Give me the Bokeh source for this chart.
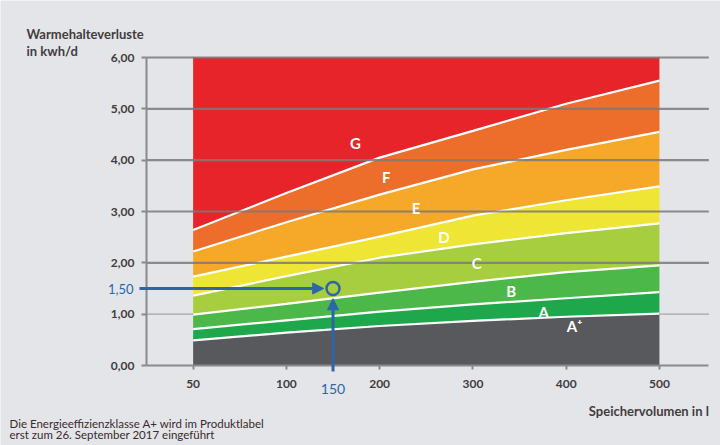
import numpy as np
from bokeh.plotting import figure
from bokeh.models import FixedTicker, Label, Arrow, NormalHead, Range1d
from bokeh.embed import file_html
from bokeh.resources import INLINE
from bokeh.core.properties import value

# ---------------- data ----------------
tick_volumes = [50, 100, 200, 300, 400, 500]
tick_labels = ["50", "100", "200", "300", "400", "500"]

volumes = [50, 100, 200, 300, 400, 500]
b_aplus_a = [0.49, 0.64, 0.77, 0.87, 0.95, 1.01]
b_a_b = [0.71, 0.88, 1.05, 1.19, 1.31, 1.43]
b_b_c = [0.99, 1.20, 1.42, 1.63, 1.82, 1.95]
b_c_d = [1.36, 1.74, 2.10, 2.36, 2.58, 2.77]
b_d_e = [1.73, 2.12, 2.51, 2.92, 3.22, 3.49]
b_e_f = [2.22, 2.79, 3.33, 3.82, 4.20, 4.55]
b_f_g = [2.64, 3.36, 4.05, 4.57, 5.10, 5.55]
y_min = 0.0
y_max = 6.0

classes = ["A\u207a", "A", "B", "C", "D", "E", "F", "G"]
class_colors = ["#58595c", "#1ea84b", "#4db84a", "#a7ce3e", "#efe535",
                "#f6a828", "#ed6d2b", "#e8242b"]
label_volumes = [409, 376, 341, 304, 269, 239, 207, 174]
label_values = [0.76, 1.05, 1.46, 1.99, 2.51, 3.06, 3.68, 4.34]

y_ticks = [0, 1, 2, 3, 4, 5, 6]
y_tick_labels = ["0,00", "1,00", "2,00", "3,00", "4,00", "5,00", "6,00"]
strong_grid = [2, 3, 4, 5, 6]
light_grid = [1]

example_volume = 150
example_loss = 1.50
example_volume_label = "150"
example_loss_label = "1,50"

y_title = ["Warmehalteverluste", "in kwh/d"]
x_title = "Speichervolumen in l"
footnote = ["Die Energieeffizienzklasse A+ wird im Produktlabel",
            "erst zum 26. September 2017 eingeführt"]

# ---------------- styling / layout ----------------
BG = "#e3e5e8"
AXIS = "#8a8a8a"
TEXT = "#433c3e"
NOTE = "#3a2a2e"
BLUE = "#2d66a8"
FONT = "Lato"

W, H = 720, 445
X_AXIS_POS = -0.5      # where the y axis sits on the volume-position scale
X_END = 5.53           # right end of the x axis
PX_PER_X = 93.26       # pixels per volume step
PX_PER_Y = 51.33       # pixels per kWh/d
AXIS_LEFT_PX = 146     # canvas x of the y axis
AXIS_BOTTOM_PX = 365   # canvas y of the x axis

x_lo = X_AXIS_POS - AXIS_LEFT_PX / PX_PER_X
x_hi = x_lo + W / PX_PER_X
y_lo = y_min - (H - AXIS_BOTTOM_PX) / PX_PER_Y
y_hi = y_lo + H / PX_PER_Y


def vpos(v):
    """Position of a volume on the (piecewise) volume axis."""
    return np.interp(v, tick_volumes, np.arange(len(tick_volumes)))


def cx(px):   # canvas pixel -> data x (for annotation placement)
    return x_lo + px / PX_PER_X


def cy(py):   # canvas pixel -> data y
    return y_hi - py / PX_PER_Y


xs = vpos(volumes)
bounds = [np.full(len(volumes), y_min), b_aplus_a, b_a_b, b_b_c, b_c_d,
          b_d_e, b_e_f, b_f_g, np.full(len(volumes), y_max)]

p = figure(width=W, height=H, x_range=Range1d(x_lo, x_hi),
           y_range=Range1d(y_lo, y_hi), output_backend="svg",
           toolbar_location=None)
p.min_border = 0
p.background_fill_color = BG
p.border_fill_color = BG
p.outline_line_color = None
p.xgrid.visible = False
p.ygrid.visible = False

# light 1,00 line beneath the bands
p.segment(x0=X_AXIS_POS, x1=X_END, y0=light_grid, y1=light_grid,
          line_color="#a3a3a3", line_width=1.2)

# bands
for lo, hi, col in zip(bounds[:-1], bounds[1:], class_colors):
    p.varea(x=xs, y1=lo, y2=hi, fill_color=col)
for b in bounds[1:-1]:
    p.line(x=xs, y=b, line_color="white", line_width=2.2)

# grid lines over the bands
p.segment(x0=X_AXIS_POS, x1=X_END, y0=strong_grid, y1=strong_grid,
          line_color="#7a7a7a", line_width=2.2, line_alpha=0.85)

# axes (drawn at fixed locations inside the frame)
p.yaxis.fixed_location = X_AXIS_POS
p.yaxis.bounds = (y_min, y_max)
p.yaxis.ticker = FixedTicker(ticks=y_ticks)
p.yaxis.major_label_overrides = {t: l for t, l in zip(y_ticks, y_tick_labels)}
p.xaxis.fixed_location = y_min
p.xaxis.bounds = (X_AXIS_POS, X_END)
p.xaxis.ticker = FixedTicker(ticks=list(vpos(tick_volumes)))
p.xaxis.major_label_overrides = {float(vpos(v)): l for v, l in zip(tick_volumes, tick_labels)}
for ax in (p.xaxis, p.yaxis):
    ax.axis_line_color = AXIS
    ax.axis_line_width = 2
    ax.major_tick_line_color = AXIS
    ax.major_tick_line_width = 2
    ax.major_tick_in = 0
    ax.minor_tick_line_color = None
    ax.major_label_text_font = FONT
    ax.major_label_text_font_style = "bold"
    ax.major_label_text_font_size = "12px"
    ax.major_label_text_color = TEXT
p.yaxis.major_tick_out = 5
p.yaxis.major_label_standoff = 7
p.xaxis.major_tick_out = 4
p.xaxis.major_label_standoff = 10

# class letters
p.text(x=vpos(label_volumes), y=label_values, text=classes,
       text_color="white", text_font=value(FONT), text_font_style="bold",
       text_font_size="15px", text_align="center", text_baseline="middle")

# example marker with arrows
ex_x = float(vpos(example_volume))
p.add_layout(Arrow(end=NormalHead(size=11, fill_color=BLUE, line_color=BLUE),
                   x_start=cx(139), y_start=example_loss,
                   x_end=ex_x - 0.1, y_end=example_loss,
                   line_color=BLUE, line_width=3))
p.add_layout(Arrow(end=NormalHead(size=11, fill_color=BLUE, line_color=BLUE),
                   x_start=ex_x, y_start=cy(371),
                   x_end=ex_x, y_end=example_loss - 0.2,
                   line_color=BLUE, line_width=3))
p.scatter(x=[ex_x], y=[example_loss], size=13, marker="circle",
          fill_color=None, line_color=BLUE, line_width=2.5)

p.add_layout(Label(x=cx(133), y=example_loss, text=example_loss_label,
                   text_color=BLUE, text_font=FONT, text_font_size="13px",
                   text_align="right", text_baseline="middle"))
p.add_layout(Label(x=ex_x, y=cy(388), text=example_volume_label,
                   text_color=BLUE, text_font=FONT, text_font_size="14px",
                   text_align="center", text_baseline="middle"))

# titles and footnote
for i, t in enumerate(y_title):
    p.add_layout(Label(x=cx(26), y=cy(33 + 17 * i), text=t, text_color=TEXT,
                       text_font=FONT, text_font_style="bold",
                       text_font_size="13px", text_align="left",
                       text_baseline="middle"))
p.add_layout(Label(x=X_END, y=cy(410), text=x_title, text_color=TEXT,
                   text_font=FONT, text_font_style="bold", text_font_size="13px",
                   text_align="right", text_baseline="middle"))
for i, t in enumerate(footnote):
    p.add_layout(Label(x=cx(9), y=cy(423 + 11 * i), text=t, text_color=NOTE,
                       text_font=FONT, text_font_size="11.5px",
                       text_align="left", text_baseline="middle"))

open("out.html", "w").write(file_html(p, INLINE))
